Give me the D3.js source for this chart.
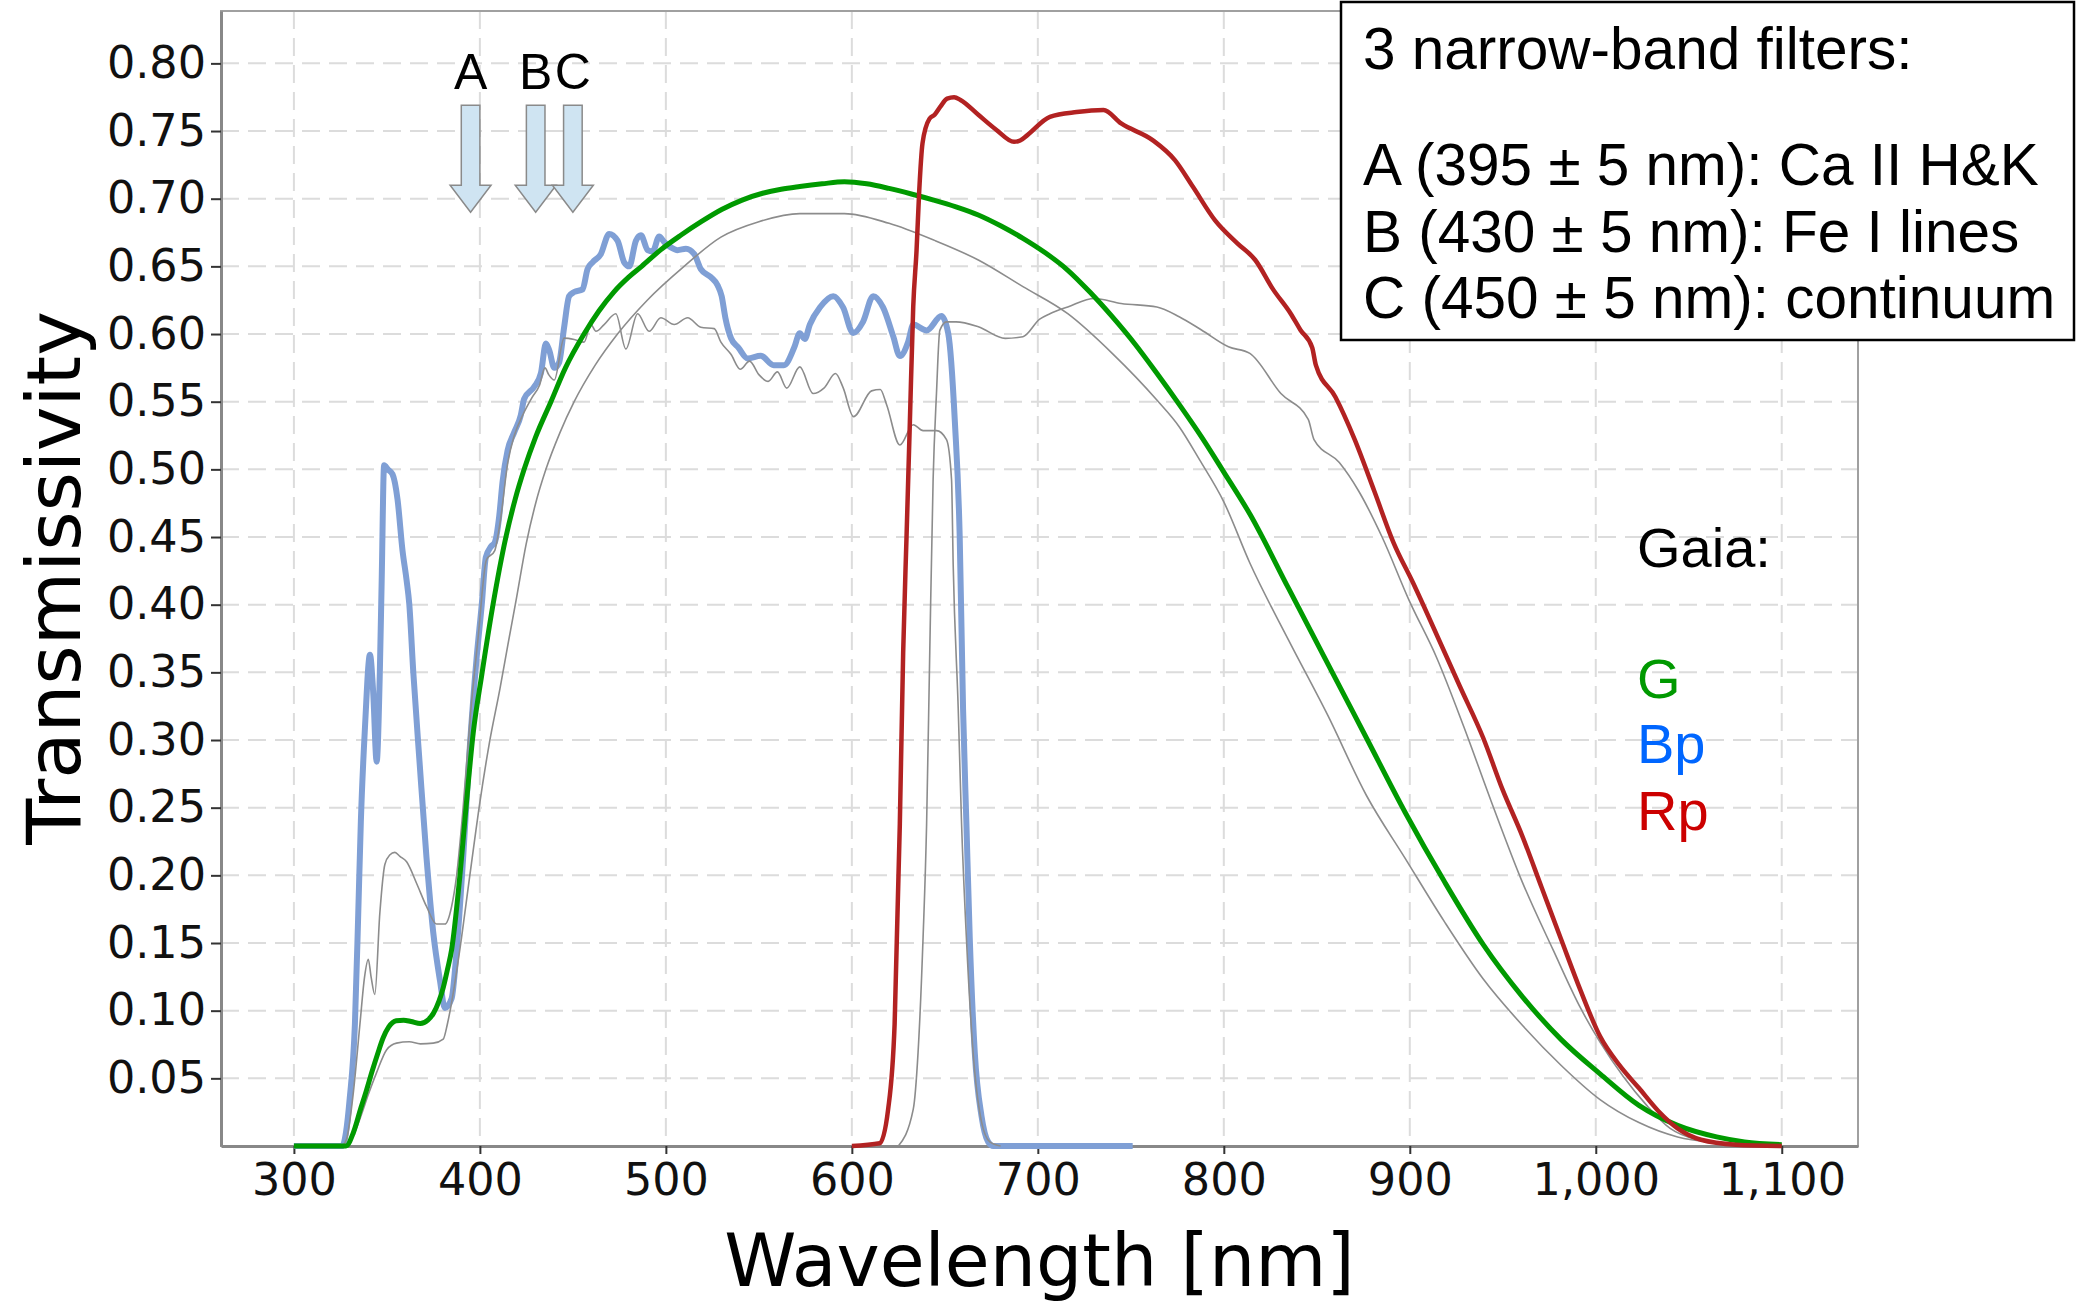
<!DOCTYPE html>
<html>
<head>
<meta charset="utf-8">
<script src="https://cdn.jsdelivr.net/npm/d3@7"></script>
<style>
  body { margin: 0; background: #fff; }
  text { font-family: "DejaVu Sans", sans-serif; }
</style>
</head>
<body>
<div id="chart"></div>
<script>
// Gaia passbands: [wavelength nm, transmissivity]
const bpCurve = [[300,0],[326,0],[328,0.01],[330,0.035],[332.8,0.09],[334.6,0.172],[336,0.24],[338.2,0.309],[340.9,0.363],[342.6,0.336],[344.5,0.284],[346.2,0.35],[347.2,0.418],[348.5,0.503],[350.5,0.5],[353,0.4965],[355.7,0.478],[358.4,0.44],[360.6,0.418],[362,0.401],[364.2,0.35],[367.7,0.281],[371.3,0.213],[374.9,0.158],[378.5,0.1226],[381.2,0.102],[384.8,0.109],[387.5,0.1445],[391,0.213],[394.6,0.295],[398.2,0.36],[401,0.4],[403.2,0.435],[406,0.443],[408,0.446],[410.4,0.4655],[412.2,0.491],[414.9,0.514],[418.5,0.5275],[422,0.54],[423.8,0.552],[429.2,0.561],[432.8,0.571],[435.5,0.593],[437.3,0.588],[440,0.575],[442.6,0.579],[445.3,0.605],[448,0.628],[450.7,0.631],[455.2,0.633],[457.9,0.648],[460.6,0.653],[465,0.659],[469.5,0.674],[474,0.669],[477.6,0.653],[480.3,0.65],[483.9,0.669],[486.6,0.673],[490.2,0.662],[492.9,0.661],[496.4,0.672],[499.1,0.668],[502.7,0.664],[506.3,0.662],[510.8,0.663],[515.3,0.659],[518.8,0.648],[524.2,0.642],[527.8,0.636],[530,0.628],[532,0.612],[535,0.597],[539,0.59],[544,0.582],[551,0.584],[558,0.577],[563.5,0.577],[569,0.59],[572,0.6006],[574.7,0.5964],[577.4,0.607],[583,0.62],[590,0.628],[595.3,0.6197],[600.7,0.6007],[606,0.609],[611.5,0.628],[616.8,0.6197],[622.2,0.5985],[625.8,0.5837],[630.3,0.5943],[633,0.607],[640.2,0.6027],[648.2,0.6133],[651.8,0.6007],[655.4,0.535],[658,0.45],[659.8,0.323],[661.6,0.238],[663.4,0.1537],[666.1,0.069],[669.7,0.0223],[673.3,0.003],[676,0],[751,0]];

const gCurve = [[300,0],[328,0],[332,0.01],[336,0.028],[339,0.041],[342,0.055],[345,0.068],[348,0.08],[351,0.088],[355,0.0926],[359,0.093],[363,0.092],[368,0.0905],[372,0.093],[375,0.098],[378,0.107],[380.3,0.117],[382.5,0.13],[384.8,0.145],[389.2,0.199],[392.8,0.254],[396.4,0.305],[401,0.348],[406.8,0.398],[414,0.45],[419,0.478],[423.8,0.5],[430,0.524],[438.2,0.55],[446,0.575],[456,0.6],[464,0.617],[472,0.631],[480,0.642],[487,0.65],[497,0.662],[508,0.673],[519,0.683],[530,0.692],[541,0.699],[552,0.704],[562,0.707],[572,0.709],[584,0.711],[596,0.7125],[608,0.711],[620,0.7076],[632,0.7035],[644,0.699],[656,0.694],[668,0.688],[680,0.68],[692,0.6707],[704,0.66],[716,0.6473],[728,0.631],[740,0.6128],[752,0.593],[764,0.571],[776,0.548],[788,0.524],[800,0.498],[814,0.467],[834.9,0.4118],[855.8,0.3567],[876.7,0.3015],[897.6,0.2463],[918.6,0.1954],[939.5,0.1488],[960.4,0.1106],[981.3,0.0788],[1002.3,0.0533],[1023.2,0.03],[1044,0.0152],[1065,0.0067],[1080,0.003],[1100,0.001]];

const rpCurve = [[600,0],[615,0.002],[619.5,0.027],[623,0.09],[625.8,0.238],[627.6,0.365],[629.4,0.45],[631.2,0.535],[633,0.62],[634.8,0.662],[636.2,0.705],[638,0.741],[641.7,0.759],[644.5,0.762],[647.6,0.768],[651.2,0.774],[655,0.775],[658.4,0.773],[668,0.762],[677.6,0.751],[687.2,0.742],[690.5,0.743],[694.4,0.747],[706.5,0.7605],[720.9,0.764],[735.3,0.7655],[744.8,0.7556],[761.7,0.7433],[773.7,0.7285],[783.3,0.709],[795.3,0.684],[807.3,0.667],[816.9,0.6547],[826.5,0.633],[836,0.615],[841.2,0.603],[847.5,0.59],[849.5,0.577],[860,0.5535],[870.4,0.522],[880.9,0.484],[891.3,0.4457],[901.8,0.416],[914.4,0.378],[926.9,0.3397],[939.5,0.3015],[949.9,0.2633],[960.4,0.2294],[970.9,0.191],[981.3,0.153],[991.8,0.115],[1002.3,0.081],[1012.7,0.0597],[1023.2,0.0428],[1033.6,0.0259],[1044,0.013],[1056.6,0.0046],[1075.4,0.001],[1100,0]];

// older passband versions, thin gray
const gOld = [[328,0],[332,0.008],[336,0.022],[340,0.038],[344.4,0.054],[349.8,0.071],[355.2,0.076],[362,0.077],[368,0.0755],[374.9,0.076],[380.3,0.079],[382.5,0.09],[384.8,0.106],[389.2,0.145],[394.6,0.2],[400,0.254],[405,0.297],[410.8,0.338],[415,0.37],[419.7,0.405],[424.9,0.445],[430,0.475],[435.5,0.5],[443,0.527],[450.7,0.55],[462,0.577],[474,0.6],[490,0.625],[509.8,0.65],[529.6,0.6716],[550,0.683],[572,0.689],[596,0.689],[620,0.6818],[644,0.6694],[668,0.6547],[692,0.635],[716.1,0.615],[740,0.5857],[764,0.5512],[776,0.5315],[787,0.507],[800,0.476],[814,0.4308],[834.9,0.3736],[855.8,0.3185],[876.7,0.259],[897.6,0.2124],[918.6,0.1658],[939.5,0.1234],[960.4,0.0894],[981.3,0.0597],[1002.3,0.0343],[1023.2,0.0173],[1044,0.0067],[1065,0.0024],[1085,0.0005],[1100,0]];

const bpOld = [[326,0],[328.3,0.005],[332,0.04],[335.5,0.09],[338,0.125],[340,0.138],[341.5,0.125],[343.5,0.112],[346.2,0.172],[348.9,0.208],[351.5,0.215],[354.3,0.217],[357,0.214],[360.6,0.21],[366,0.194],[371.3,0.177],[376.7,0.164],[381.2,0.164],[384.8,0.177],[387.5,0.2],[391,0.25],[395,0.32],[399,0.375],[403.5,0.433],[408,0.44],[411,0.462],[415,0.505],[418.5,0.525],[423,0.54],[428,0.553],[432,0.562],[435,0.575],[437,0.57],[440,0.566],[445.3,0.597],[450.7,0.596],[456,0.594],[459.7,0.607],[462.4,0.602],[466.8,0.607],[473.1,0.615],[478.5,0.589],[484.8,0.615],[491,0.602],[497.3,0.612],[504.5,0.607],[511.7,0.612],[518.8,0.605],[526,0.604],[529.6,0.594],[535,0.585],[540,0.574],[545,0.58],[550,0.57],[555,0.565],[560,0.572],[565,0.56],[572,0.5757],[579.2,0.556],[585,0.56],[591.2,0.5708],[595.3,0.5604],[600.9,0.539],[610.6,0.558],[615.3,0.559],[618.7,0.5477],[625.8,0.518],[633,0.533],[638.3,0.5286],[645.5,0.5286],[650.9,0.522],[653.6,0.4925],[654.5,0.429],[657.2,0.323],[659,0.238],[661.6,0.1537],[665.2,0.069],[669.7,0.018],[674.2,0.003],[680,0]];

const rpOld = [[625,0],[633,0.027],[635.6,0.069],[638.3,0.154],[640.2,0.238],[641.9,0.3655],[643.7,0.4925],[645.5,0.556],[647.3,0.6027],[650.9,0.609],[656,0.609],[668,0.6054],[682.5,0.5968],[692,0.598],[701,0.611],[706.5,0.615],[716.1,0.62],[730.4,0.6263],[744.8,0.6226],[764,0.62],[776,0.6128],[788,0.603],[802.5,0.5906],[814,0.5857],[830.7,0.556],[845.4,0.537],[848.5,0.522],[862.1,0.505],[872.5,0.484],[885.1,0.45],[899.7,0.403],[914.4,0.361],[929,0.31],[943.7,0.255],[960.4,0.1954],[977.2,0.1445],[991.8,0.102],[1002.3,0.0767],[1014.8,0.0513],[1027.4,0.03],[1040,0.013],[1054.6,0.0046],[1075.4,0.001],[1090,0]];

// narrow-band filters (centre, half width in nm)
const filterNames = ["A", "B", "C"];
const filterCentres = [395, 430, 450];
const filterHalfWidth = 5;
const legendLines = ["3 narrow-band filters:", "", "A (395 \u00b1 5 nm): Ca II H&K", "B (430 \u00b1 5 nm): Fe I lines", "C (450 \u00b1 5 nm): continuum"];

const gaiaBands = ["G", "Bp", "Rp"];
const gaiaColours = ["#009900", "#0066ff", "#cc0000"];

const xTicks = [300, 400, 500, 600, 700, 800, 900, 1000, 1100];
const yTicks = [0.05, 0.10, 0.15, 0.20, 0.25, 0.30, 0.35, 0.40, 0.45, 0.50, 0.55, 0.60, 0.65, 0.70, 0.75, 0.80];

const W = 2077, H = 1303;
const margin = { top: 11, right: 219, bottom: 157, left: 221 };
const width = W - margin.left - margin.right;
const height = H - margin.top - margin.bottom;
const arial = "'Liberation Sans', Arial, sans-serif";

const svg = d3.select("#chart")
    .append("svg")
    .attr("width", W)
    .attr("height", H);

const g = svg.append("g")
    .attr("transform", `translate(${margin.left},${margin.top})`);

const x = d3.scaleLinear().domain([260.8, 1141]).range([0, width]);
const y = d3.scaleLinear().domain([0, 0.8387]).range([height, 0]);

// dashed grid
g.append("g").selectAll("line")
    .data(yTicks)
    .join("line")
    .attr("x1", 0).attr("x2", width)
    .attr("y1", d => y(d)).attr("y2", d => y(d))
    .attr("stroke", "#dcdcdc").attr("stroke-width", 2)
    .attr("stroke-dasharray", "18,9");

g.append("g").selectAll("line")
    .data(xTicks)
    .join("line")
    .attr("x1", d => x(d)).attr("x2", d => x(d))
    .attr("y1", 0).attr("y2", height)
    .attr("stroke", "#dcdcdc").attr("stroke-width", 2)
    .attr("stroke-dasharray", "18,9");

// frame
g.append("rect")
    .attr("width", width).attr("height", height)
    .attr("fill", "none").attr("stroke", "#a0a0a0").attr("stroke-width", 2);

// axes
const yAxis = g.append("g")
    .call(d3.axisLeft(y).tickValues(yTicks).tickFormat(d3.format(".2f"))
        .tickSize(10).tickSizeOuter(0).tickPadding(5));
const xAxis = g.append("g")
    .attr("transform", `translate(0,${height})`)
    .call(d3.axisBottom(x).tickValues(xTicks).tickFormat(d3.format(","))
        .tickSize(8).tickSizeOuter(0).tickPadding(9));

[yAxis, xAxis].forEach(a => {
    a.select(".domain").attr("stroke", "#888").attr("stroke-width", 3);
    a.selectAll(".tick line").attr("stroke", "#333").attr("stroke-width", 2);
    a.selectAll(".tick text")
        .attr("fill", "#111")
        .style("font-family", "'DejaVu Sans', sans-serif")
        .style("font-size", "44.5px");
});

// axis titles
svg.append("text")
    .attr("transform", "translate(80,578) rotate(-90)")
    .attr("text-anchor", "middle")
    .style("font-size", "75.5px")
    .text("Transmissivity");

svg.append("text")
    .attr("x", margin.left + width / 2)
    .attr("y", 1286)
    .attr("text-anchor", "middle")
    .style("font-size", "73px")
    .text("Wavelength [nm]");

// curves
const line = d3.line()
    .x(d => x(d[0]))
    .y(d => y(d[1]))
    .curve(d3.curveMonotoneX);

g.append("path").datum(bpCurve)
    .attr("d", line).attr("fill", "none")
    .attr("stroke", "#7f9fd5").attr("stroke-width", 6).attr("stroke-linejoin", "round");

[gOld, bpOld, rpOld].forEach(c => {
    g.append("path").datum(c)
        .attr("d", line).attr("fill", "none")
        .attr("stroke", "#8c8c8c").attr("stroke-width", 1.6);
});

g.append("path").datum(gCurve)
    .attr("d", line).attr("fill", "none")
    .attr("stroke", "#009a00").attr("stroke-width", 5).attr("stroke-linejoin", "round");

g.append("path").datum(rpCurve)
    .attr("d", line).attr("fill", "none")
    .attr("stroke", "#b22222").attr("stroke-width", 4.5).attr("stroke-linejoin", "round");

// filter arrows
const arrowTop = 0.769, headStart = 0.710, tip = 0.690, headHalf = 11;
const arrows = g.append("g");
filterCentres.forEach((c, i) => {
    const pts = [
        [x(c - filterHalfWidth), y(arrowTop)],
        [x(c + filterHalfWidth), y(arrowTop)],
        [x(c + filterHalfWidth), y(headStart)],
        [x(c + headHalf), y(headStart)],
        [x(c), y(tip)],
        [x(c - headHalf), y(headStart)],
        [x(c - filterHalfWidth), y(headStart)]
    ];
    arrows.append("polygon")
        .attr("points", pts.map(p => p.join(",")).join(" "))
        .attr("fill", "#cfe4f2")
        .attr("stroke", "#8a8a8a")
        .attr("stroke-width", 1.5);
    arrows.append("text")
        .attr("x", x(c))
        .attr("y", y(0.781))
        .attr("text-anchor", "middle")
        .style("font-family", arial)
        .style("font-size", "50px")
        .text(filterNames[i]);
});

// filter legend box
const box = svg.append("g");
box.append("rect")
    .attr("x", 1341).attr("y", 2)
    .attr("width", 733).attr("height", 338)
    .attr("fill", "#fff").attr("stroke", "#000").attr("stroke-width", 2.5);
const boxBaselines = [69, 0, 185, 252, 318];
legendLines.forEach((t, i) => {
    if (!t) return;
    box.append("text")
        .attr("x", 1363)
        .attr("y", boxBaselines[i])
        .style("font-family", arial)
        .style("font-size", "58.5px")
        .text(t);
});

// Gaia band labels
svg.append("text")
    .attr("x", 1637).attr("y", 567)
    .style("font-family", arial).style("font-size", "56px")
    .text("Gaia:");
const gaiaBaselines = [698, 763, 830];
gaiaBands.forEach((b, i) => {
    svg.append("text")
        .attr("x", 1637)
        .attr("y", gaiaBaselines[i])
        .attr("fill", gaiaColours[i])
        .style("font-family", arial).style("font-size", "56px")
        .text(b);
});
</script>
</body>
</html>
